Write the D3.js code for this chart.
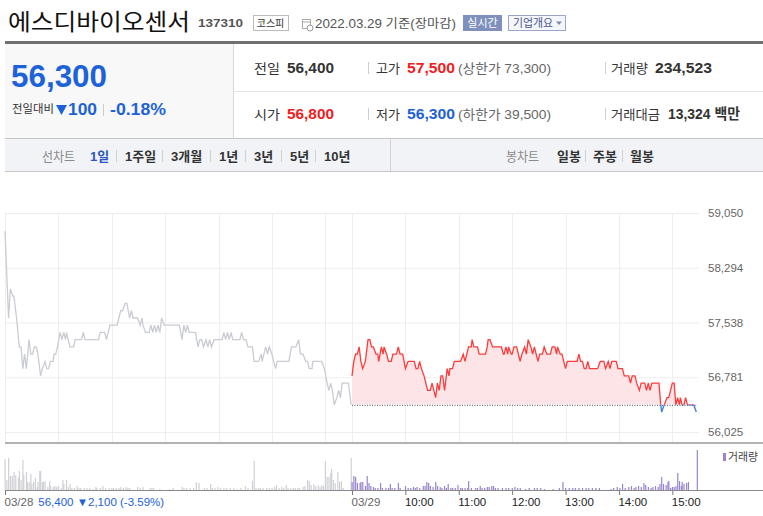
<!DOCTYPE html>
<html>
<head>
<meta charset="utf-8">
<script src="https://cdn.jsdelivr.net/npm/d3@7"></script>
<style>
  body { margin: 0; background: #fff; }
  svg { display: block; font-family: "Liberation Sans", "Noto Sans CJK KR", sans-serif; }
</style>
</head>
<body>
<div id="chart"></div>
<script>
// ---- data ----
const stockName = "에스디바이오센서"
const stockCode = "137310"
const prevClose = 56400

const yTicks = [56025, 56781, 57538, 58294, 59050]

// minutes after 09:00, price
const day1Prices = [
  [0,58800],[4,57600],[6,58000],[9,57900],[10,57900],[13,57600],[16,57200],[18,57200],[20,56900],[22,57100],
  [24,56900],[27,57300],[29,57100],[31,57100],[33,57200],[35,57200],[37,57100],[40,56800],[42,56900],[45,57000],
  [47,56900],[49,56900],[51,57000],[54,57000],[55,57100],[57,57100],[59,57200],[62,57400],[64,57300],[66,57400],
  [68,57300],[69,57400],[71,57300],[73,57200],[77,57200],[79,57300],[86,57300],[88,57400],[90,57300],[105,57300],
  [107,57400],[112,57400],[114,57300],[118,57500],[126,57500],[130,57700],[132,57700],[135,57800],[137,57800],[140,57600],
  [142,57700],[144,57600],[149,57600],[152,57500],[154,57600],[155,57500],[158,57400],[162,57400],[164,57500],[166,57400],
  [168,57500],[170,57400],[172,57500],[174,57400],[176,57600],[179,57500],[196,57500],[199,57300],[201,57500],[203,57400],
  [205,57500],[207,57400],[214,57400],[217,57200],[219,57300],[221,57300],[223,57200],[226,57300],[228,57200],[230,57300],
  [232,57200],[235,57300],[244,57300],[246,57400],[248,57300],[250,57400],[252,57300],[254,57400],[256,57300],[264,57300],
  [266,57400],[268,57300],[271,57300],[273,57200],[278,57200],[280,57000],[285,57000],[288,57100],[289,57000],[291,57100],
  [293,57200],[295,57100],[297,57200],[300,57100],[302,57000],[304,56900],[306,57000],[319,57000],[322,57200],[327,57200],
  [330,57300],[332,57100],[335,57100],[338,57000],[340,57000],[342,56900],[345,56900],[346,57000],[356,57000],[359,56900],
  [362,56700],[364,56600],[366,56700],[368,56600],[370,56400],[373,56500],[375,56600],[377,56500],[379,56700],[386,56700],
  [389,56400]
]

const day2Prices = [
  [0,56800],[2,57000],[4,57100],[6,57100],[8,57200],[10,57000],[12,56900],[15,57000],[16,57100],[18,57300],
  [20,57300],[22,57200],[24,57200],[27,57100],[29,57100],[30,57000],[33,57200],[35,57100],[36,57200],[39,57100],
  [41,57000],[44,57000],[46,57100],[50,57100],[52,57200],[54,57100],[57,57100],[60,56900],[63,57000],[70,57000],
  [72,56900],[74,56900],[76,57000],[78,56900],[81,56800],[83,56700],[85,56600],[88,56600],[90,56700],[92,56600],
  [94,56500],[96,56700],[98,56600],[100,56800],[102,56800],[104,56600],[107,56900],[109,56800],[110,56900],[113,56900],
  [115,57000],[122,57000],[125,57100],[127,57000],[129,57100],[131,57200],[134,57200],[135,57300],[137,57200],[141,57200],
  [143,57100],[150,57100],[152,57200],[153,57300],[155,57300],[158,57200],[168,57200],[170,57100],[171,57100],[173,57200],
  [175,57100],[176,57200],[179,57100],[180,57100],[182,57200],[185,57200],[187,57100],[189,57000],[191,57100],[194,57200],
  [196,57100],[198,57300],[201,57200],[203,57100],[205,57200],[207,57100],[209,57000],[211,57100],[214,57100],[216,57200],
  [219,57100],[223,57100],[225,57200],[228,57200],[230,57100],[231,57200],[234,57100],[236,57100],[238,57000],[240,56900],
  [242,57000],[253,57000],[255,57100],[257,57000],[259,57000],[261,56900],[263,56900],[265,57000],[267,56900],[276,56900],
  [279,57000],[283,57000],[285,56900],[288,57000],[290,56900],[292,57000],[297,57000],[299,56900],[304,56900],[306,56800],
  [311,56800],[313,56700],[315,56800],[318,56800],[320,56700],[323,56600],[325,56700],[329,56700],[331,56600],[333,56700],
  [335,56600],[337,56700],[345,56700],[347,56400],[348,56300],[351,56400],[354,56500],[356,56500],[358,56600],[360,56700],
  [362,56700],[364,56400],[366,56500],[368,56400],[369,56500],[371,56400],[373,56400],[375,56500],[377,56400],[384,56400],
  [387,56300]
]

// minutes after 09:00, shares
const day1Volumes = [
  [0,9300],[2,3000],[4,9600],[6,4200],[8,4200],[10,5400],[12,4500],[15,3600],[16,5700],[18,3000],
  [20,9000],[21,4500],[24,5400],[25,2400],[27,2400],[29,4800],[30,1800],[32,2400],[34,3600],[36,900],
  [37,2400],[39,5700],[40,5700],[42,2400],[43,2400],[45,2700],[48,900],[50,2700],[51,1200],[54,900],
  [56,1200],[58,900],[60,1200],[63,600],[65,3000],[66,1800],[69,3000],[71,900],[73,1800],[75,600],
  [78,600],[81,1200],[83,600],[85,600],[89,600],[92,600],[95,600],[99,300],[102,900],[103,600],
  [107,600],[110,1200],[113,600],[117,600],[120,600],[122,600],[125,600],[128,600],[130,900],[133,600],
  [136,900],[138,600],[140,600],[149,900],[152,600],[155,900],[163,600],[165,600],[167,600],[174,300],
  [185,300],[189,600],[199,900],[201,600],[204,600],[208,600],[212,600],[215,2400],[218,2100],[224,600],
  [227,600],[231,1800],[233,600],[236,600],[239,900],[242,600],[246,600],[249,600],[253,600],[257,600],
  [260,300],[265,600],[270,1200],[273,600],[278,2700],[280,8700],[282,600],[285,600],[287,600],[290,600],
  [294,600],[297,600],[300,600],[303,900],[305,1500],[308,600],[311,900],[313,600],[316,1500],[318,600],
  [321,600],[324,600],[326,600],[329,600],[331,600],[335,900],[337,1200],[340,3000],[342,2700],[344,1500],
  [347,1800],[349,1200],[352,1500],[354,900],[356,1500],[358,1200],[360,8700],[362,3900],[364,3900],[366,5100],
  [367,6300],[369,3000],[371,2100],[374,5400],[376,2400],[378,2700],[380,600],[389,9600]
]

const day2Volumes = [
  [0,2400],[2,4200],[4,3900],[6,2100],[9,2100],[10,2400],[12,2400],[15,1200],[17,4200],[19,2100],
  [21,1200],[24,900],[26,600],[29,600],[32,2100],[34,600],[38,600],[41,600],[43,1800],[45,600],
  [48,600],[52,2100],[54,600],[60,1200],[63,600],[66,600],[69,900],[71,600],[73,900],[76,600],
  [80,1200],[82,1200],[84,2400],[86,2100],[88,1200],[91,900],[94,2400],[96,1200],[99,900],[101,600],
  [104,1200],[106,600],[108,1800],[111,600],[113,600],[116,600],[119,1500],[122,600],[124,600],[127,600],
  [130,600],[131,2700],[134,600],[139,600],[141,600],[144,1200],[146,600],[149,600],[152,900],[154,900],
  [157,1200],[159,1200],[161,600],[164,600],[169,600],[173,600],[176,600],[180,600],[183,900],[186,600],
  [189,600],[195,300],[199,600],[205,600],[208,600],[212,600],[216,300],[226,300],[233,600],[237,2400],
  [240,600],[244,600],[248,600],[251,600],[255,600],[259,600],[263,600],[266,600],[270,600],[274,600],
  [278,600],[291,300],[294,600],[298,900],[301,600],[304,1800],[307,600],[311,900],[314,1200],[317,600],
  [319,900],[322,1200],[325,900],[328,2100],[330,1500],[333,900],[336,600],[338,900],[341,1200],[344,900],
  [346,1800],[348,3900],[350,1800],[353,1500],[355,2400],[356,2700],[358,600],[360,900],[362,900],[364,1200],
  [366,5100],[368,2700],[370,1200],[371,2400],[373,1800],[376,2100],[378,2400],[388,12000]
]

// minutes on the joined two-session axis
const SESSION = 390
const gridMinutes = [0, 60, 120, 180, 240, 300, 360, 390, 450, 510, 570, 630, 690, 750]
const timeTicks = [0, 390, 450, 510, 570, 630, 690, 750]
const timeLabels = ["03/28", "03/29", "10:00", "11:00", "12:00", "13:00", "14:00", "15:00"]

const tabsLine = ["1일", "1주일", "3개월", "1년", "3년", "5년", "10년"]
const tabsLineX = [90, 125, 171, 219, 254, 290, 324]
const tabsCandle = ["일봉", "주봉", "월봉"]
const tabsCandleX = [557, 593, 630]

const RED = "#f0201e"
const BLUE = "#1d62d8"

// ---- drawing ----
const W = 763, H = 516
const svg = d3.select("#chart").append("svg").attr("width", W).attr("height", H)

function txt(g, x, y, s, o = {}) {
  const t = g.append("text").attr("x", x).attr("y", y).text(s)
    .attr("font-size", o.size || 13)
    .attr("font-weight", o.bold ? "bold" : "normal")
    .attr("fill", o.color || "#333")
  if (o.len) t.attr("textLength", o.len).attr("lengthAdjust", "spacingAndGlyphs")
  if (o.anchor) t.attr("text-anchor", o.anchor)
  return t
}

// Header
const head = svg.append("g")
txt(head, 8, 30, stockName, { size: 23, color: "#111", len: 182 })
txt(head, 198, 27, stockCode, { size: 11.5, bold: true, color: "#555", len: 45 })

head.append("rect").attr("x", 253.5).attr("y", 15.5).attr("width", 35).attr("height", 15)
  .attr("fill", "#fff").attr("stroke", "#bcbcbc")
txt(head, 270.5, 27, "코스피", { size: 10, color: "#333", anchor: "middle" })

// little calendar icon
head.append("rect").attr("x", 302.5).attr("y", 19.5).attr("width", 8).attr("height", 9)
  .attr("fill", "#fff").attr("stroke", "#aaa")
head.append("line").attr("x1", 302.5).attr("x2", 310.5).attr("y1", 22).attr("y2", 22).attr("stroke", "#aaa")
head.append("circle").attr("cx", 310).attr("cy", 28).attr("r", 3).attr("fill", "#fff").attr("stroke", "#999")

txt(head, 315, 28, "2022.03.29 기준(장마감)", { size: 12, color: "#555", len: 141 })

head.append("rect").attr("x", 463).attr("y", 15).attr("width", 39).attr("height", 16).attr("fill", "#8090bd")
txt(head, 482.5, 27, "실시간", { size: 11, color: "#fff", anchor: "middle" })

head.append("rect").attr("x", 508.5).attr("y", 15.5).attr("width", 57).attr("height", 15)
  .attr("fill", "#f5f6fb").attr("stroke", "#9aa6c9")
txt(head, 513, 27, "기업개요", { size: 11, color: "#46578c", len: 40 })
head.append("path").attr("d", "M556,21.5L562,21.5L559,25Z").attr("fill", "#7d8ab0")

head.append("rect").attr("x", 5).attr("y", 41).attr("width", 758).attr("height", 3).attr("fill", "#707070")

// Quote panel
const quote = svg.append("g")
quote.append("rect").attr("x", 5).attr("y", 44).attr("width", 228).attr("height", 94).attr("fill", "#f8f8f8")
quote.append("line").attr("x1", 233.5).attr("x2", 233.5).attr("y1", 44).attr("y2", 138).attr("stroke", "#d8d8d8")
quote.append("line").attr("x1", 234).attr("x2", 763).attr("y1", 91.5).attr("y2", 91.5).attr("stroke", "#e4e4e4")

txt(quote, 11, 87, "56,300", { size: 31, bold: true, color: BLUE, len: 96 })
txt(quote, 12, 113, "전일대비", { size: 11, color: "#333", len: 42 })
quote.append("path").attr("d", "M56,105L67,105L61.5,115Z").attr("fill", BLUE)
txt(quote, 68, 115, "100", { size: 16, bold: true, color: BLUE, len: 29 })
quote.append("line").attr("x1", 103.5).attr("x2", 103.5).attr("y1", 104).attr("y2", 116).attr("stroke", "#ccc")
txt(quote, 110, 115, "-0.18%", { size: 16, bold: true, color: BLUE, len: 56 })

const rows = [
  { y: 73, cells: [
    ["전일", 254, 26], ["56,400", 287, 47, "#333"], ["고가", 376, 24], ["57,500", 407, 48, RED],
    ["(상한가 73,300)", 458, 93, null, "#666"], ["거래량", 611, 37], ["234,523", 655, 57, "#333"] ] },
  { y: 119, cells: [
    ["시가", 254, 26], ["56,800", 287, 47, RED], ["저가", 376, 24], ["56,300", 407, 48, BLUE],
    ["(하한가 39,500)", 458, 93, null, "#666"], ["거래대금", 611, 49], ["13,324 백만", 668, 72, "#333"] ] }
]
rows.forEach(r => {
  r.cells.forEach(([s, cx, len, valColor, plain]) => {
    if (valColor) txt(quote, cx, r.y, s, { size: 14.5, bold: true, color: valColor, len })
    else txt(quote, cx, r.y, s, { size: 13, color: plain || "#333", len })
  })
  ;[368.5, 605.5].forEach(sx => quote.append("line").attr("x1", sx).attr("x2", sx)
    .attr("y1", r.y - 11).attr("y2", r.y + 1).attr("stroke", "#cfcfcf"))
})

// Tab bar
const tabs = svg.append("g")
tabs.append("rect").attr("x", 5).attr("y", 138).attr("width", 758).attr("height", 34).attr("fill", "#f1f3f6")
tabs.append("line").attr("x1", 5).attr("x2", 763).attr("y1", 138.5).attr("y2", 138.5).attr("stroke", "#c6c6c6")
tabs.append("line").attr("x1", 5).attr("x2", 763).attr("y1", 171.5).attr("y2", 171.5).attr("stroke", "#c6c6c6")
tabs.append("line").attr("x1", 390.5).attr("x2", 390.5).attr("y1", 139).attr("y2", 171).attr("stroke", "#d2d2d2")

txt(tabs, 42, 161, "선차트", { size: 13, color: "#8a8a8a", len: 33 })
tabsLine.forEach((s, i) => {
  txt(tabs, tabsLineX[i], 161, s, { size: 13, bold: true, color: i === 0 ? "#2a56c6" : "#333" })
  if (i > 0) tabs.append("line").attr("x1", tabsLineX[i] - 8.5).attr("x2", tabsLineX[i] - 8.5)
    .attr("y1", 150).attr("y2", 162).attr("stroke", "#d0d0d0")
})
txt(tabs, 506, 161, "봉차트", { size: 13, color: "#8a8a8a", len: 33 })
tabsCandle.forEach((s, i) => {
  txt(tabs, tabsCandleX[i], 161, s, { size: 13, bold: true, color: "#333" })
  if (i > 0) tabs.append("line").attr("x1", tabsCandleX[i] - 7.5).attr("x2", tabsCandleX[i] - 7.5)
    .attr("y1", 150).attr("y2", 162).attr("stroke", "#d0d0d0")
})

// ---- price chart ----
const x = d3.scaleLinear().domain([0, 2 * SESSION]).range([5, 699])
const y = d3.scaleLinear().domain([56025, 59050]).range([432, 213])
const v = d3.scaleLinear().domain([0, 12000]).range([490, 450])

const chart = svg.append("g")

chart.append("g").selectAll("line.h").data(yTicks).join("line").attr("class", "h")
  .attr("x1", 5).attr("x2", 699).attr("y1", d => y(d) + 0.5).attr("y2", d => y(d) + 0.5)
  .attr("stroke", "#eeeeee")
chart.append("g").selectAll("line.v").data(gridMinutes).join("line").attr("class", "v")
  .attr("x1", d => Math.round(x(d)) + 0.5).attr("x2", d => Math.round(x(d)) + 0.5)
  .attr("y1", 213).attr("y2", 443).attr("stroke", "#eeeeee")

const yAxis = chart.append("g").attr("transform", "translate(708,0)")
  .call(d3.axisRight(y).tickValues(yTicks).tickFormat(d3.format(",")).tickSize(0).tickPadding(0))
yAxis.select(".domain").remove()
yAxis.selectAll("text").attr("fill", "#666").attr("font-size", 11.5)
  .attr("font-family", "Liberation Sans, sans-serif")

const base = y(prevClose)
const defs = svg.append("defs")
defs.append("clipPath").attr("id", "above").append("rect")
  .attr("x", 0).attr("y", 200).attr("width", W).attr("height", base - 200)
defs.append("clipPath").attr("id", "below").append("rect")
  .attr("x", 0).attr("y", base).attr("width", W).attr("height", 443 - base)

const d2 = day2Prices.map(([m, p]) => [m + SESSION, p])
const area = d3.area().x(d => x(d[0])).y0(base).y1(d => y(d[1]))
const line = d3.line().x(d => x(d[0])).y(d => y(d[1]))

chart.append("path").datum(d2).attr("d", area).attr("fill", "#fde4e6").attr("clip-path", "url(#above)")
chart.append("path").datum(d2).attr("d", area).attr("fill", "#e1e9f8").attr("clip-path", "url(#below)")

chart.append("line").attr("x1", x(SESSION)).attr("x2", x(d2[d2.length - 1][0]))
  .attr("y1", base + 0.5).attr("y2", base + 0.5)
  .attr("stroke", "#555").attr("stroke-dasharray", "1,1.5")

chart.append("path").datum(day1Prices).attr("d", line)
  .attr("fill", "none").attr("stroke", "#c9ccd3").attr("stroke-width", 1.3)
chart.append("path").datum(d2).attr("d", line).attr("clip-path", "url(#above)")
  .attr("fill", "none").attr("stroke", "#ff3a3a").attr("stroke-width", 1.3)
chart.append("path").datum(d2).attr("d", line).attr("clip-path", "url(#below)")
  .attr("fill", "none").attr("stroke", "#3f7be0").attr("stroke-width", 1.3)

chart.append("line").attr("x1", 5).attr("x2", 763).attr("y1", 443).attr("y2", 443)
  .attr("stroke", "#b3b3b3").attr("stroke-width", 2)

// ---- volume ----
const vol = svg.append("g")
vol.selectAll("rect.d1").data(day1Volumes).join("rect").attr("class", "d1")
  .attr("x", d => x(d[0]) - 0.5).attr("width", 1.2)
  .attr("y", d => v(d[1])).attr("height", d => 490 - v(d[1])).attr("fill", "#cfd0d6")
vol.selectAll("rect.d2").data(day2Volumes).join("rect").attr("class", "d2")
  .attr("x", d => x(d[0] + SESSION) - 0.5).attr("width", 1.2)
  .attr("y", d => v(d[1])).attr("height", d => 490 - v(d[1])).attr("fill", "#9884cf")

vol.append("rect").attr("x", 723).attr("y", 453).attr("width", 3).attr("height", 8).attr("fill", "#9884cf")
txt(vol, 728, 461, "거래량", { size: 11, color: "#444", len: 30 })

const xAxis = vol.append("g").attr("transform", "translate(0,490)")
  .call(d3.axisBottom(x).tickValues(timeTicks).tickSize(5).tickSizeOuter(0)
    .tickFormat((d, i) => timeLabels[i]))
xAxis.select(".domain").remove()
xAxis.selectAll(".tick line").attr("stroke", "#777")
xAxis.selectAll("text").attr("text-anchor", "start").attr("dx", -1)
  .attr("font-size", 11.5).attr("font-family", "Liberation Sans, sans-serif")
  .attr("fill", (d, i) => i < 2 ? "#666" : "#222")
xAxis.select(".tick text").append("tspan").attr("fill", BLUE).attr("dx", 5)
  .text("56,400 ▼2,100 (-3.59%)")
vol.append("line").attr("x1", 5).attr("x2", 763).attr("y1", 490.5).attr("y2", 490.5)
  .attr("stroke", "#8a8a8a").attr("stroke-width", 1.2)
</script>
</body>
</html>
